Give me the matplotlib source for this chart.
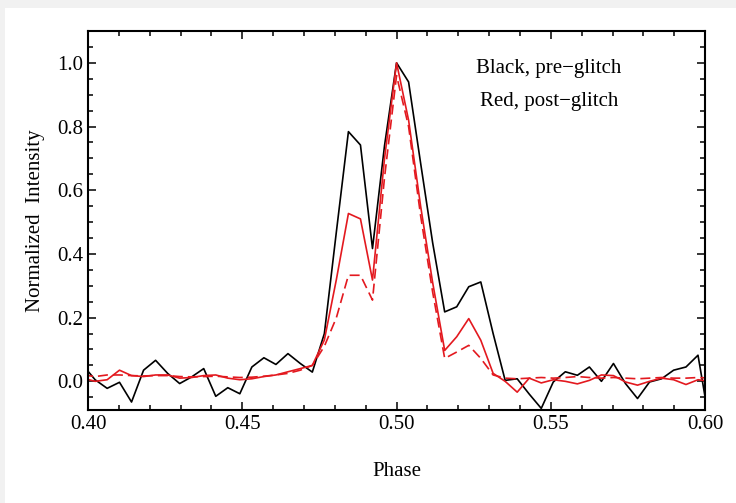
import numpy as np
import matplotlib.pyplot as plt
from matplotlib.patches import Rectangle
from matplotlib.ticker import MultipleLocator, FormatStrFormatter

plt.rcParams['font.family'] = ['Liberation Serif', 'DejaVu Serif']

# pulse phase bins (1/256 of a turn)
phase = [0.3984, 0.4023, 0.4062, 0.4102, 0.4141, 0.4180, 0.4219, 0.4258, 0.4297,
         0.4336, 0.4375, 0.4414, 0.4453, 0.4492, 0.4531, 0.4570, 0.4609, 0.4648,
         0.4688, 0.4727, 0.4766, 0.4805, 0.4844, 0.4883, 0.4922, 0.4961, 0.5000,
         0.5039, 0.5078, 0.5117, 0.5156, 0.5195, 0.5234, 0.5273, 0.5313, 0.5352,
         0.5391, 0.5430, 0.5469, 0.5508, 0.5547, 0.5586, 0.5625, 0.5664, 0.5703,
         0.5742, 0.5781, 0.5820, 0.5859, 0.5898, 0.5938, 0.5977, 0.6016]

# pre-glitch profile
pre = [0.05, 0.005, -0.022, -0.003, -0.065, 0.035, 0.066, 0.025, -0.007,
       0.014, 0.040, -0.047, -0.020, -0.039, 0.045, 0.074, 0.053, 0.087,
       0.056, 0.029, 0.15, 0.47, 0.784, 0.742, 0.417, 0.74, 1.0,
       0.94, 0.685, 0.435, 0.218, 0.234, 0.297, 0.312, 0.15, 0.003,
       0.008, -0.04, -0.085, -0.002, 0.03, 0.019, 0.045, 0.0, 0.056,
       -0.007, -0.054, -0.002, 0.008, 0.035, 0.045, 0.082, -0.14]

# post-glitch profile (solid)
post = [0.01, 0.0, 0.005, 0.035, 0.018, 0.015, 0.02, 0.02, 0.01,
        0.012, 0.018, 0.02, 0.01, 0.005, 0.008, 0.015, 0.02, 0.03,
        0.04, 0.05, 0.13, 0.32, 0.527, 0.51, 0.318, 0.70, 1.0,
        0.82, 0.55, 0.31, 0.097, 0.14, 0.197, 0.129, 0.025, 0.0,
        -0.034, 0.01, -0.005, 0.005, 0.0, -0.008, 0.003, 0.02, 0.018,
        -0.002, -0.012, 0.0, 0.01, 0.005, -0.01, 0.005, 0.0]

# post-glitch profile (dashed)
post2 = [0.02, 0.015, 0.02, 0.02, 0.018, 0.017, 0.018, 0.018, 0.015,
         0.014, 0.015, 0.016, 0.014, 0.012, 0.013, 0.016, 0.02, 0.025,
         0.035, 0.05, 0.11, 0.20, 0.333, 0.333, 0.255, 0.64, 0.96,
         0.80, 0.52, 0.28, 0.072, 0.092, 0.113, 0.072, 0.02, 0.01,
         0.008, 0.01, 0.012, 0.01, 0.012, 0.015, 0.012, 0.01, 0.012,
         0.01, 0.008, 0.01, 0.012, 0.01, 0.01, 0.012, 0.01]

fig = plt.figure(figsize=(7.36, 5.03), dpi=100, facecolor='white')
# light grey frame on the top and left edges
fig.patches.append(Rectangle((0, 1 - 8 / 503), 1, 8 / 503, transform=fig.transFigure,
                             facecolor='#f1f1f1', edgecolor='none'))
fig.patches.append(Rectangle((0, 0), 5 / 736, 1, transform=fig.transFigure,
                             facecolor='#f1f1f1', edgecolor='none'))
ax = fig.add_axes([0.1196, 0.1849, 0.958 - 0.1196, 0.9384 - 0.1849])

red = '#e3191f'
ax.plot(phase, pre, color='black', lw=1.2)
ax.plot(phase, post, color=red, lw=1.2)
ax.plot(phase, post2, color=red, lw=1.2, dashes=(6, 3))

ax.set_xlim(0.40, 0.60)
ax.set_ylim(-0.09, 1.10)
ax.xaxis.set_major_locator(MultipleLocator(0.05))
ax.xaxis.set_minor_locator(MultipleLocator(0.01))
ax.yaxis.set_major_locator(MultipleLocator(0.2))
ax.yaxis.set_minor_locator(MultipleLocator(0.05))
ax.xaxis.set_major_formatter(FormatStrFormatter('%.2f'))
ax.yaxis.set_major_formatter(FormatStrFormatter('%.1f'))
ax.tick_params(which='both', direction='in', top=True, right=True, labelsize=15, width=1.1)
ax.tick_params(which='major', length=6)
ax.tick_params(which='minor', length=3.5)
for s in ax.spines.values():
    s.set_linewidth(1.5)

ax.set_xlabel('Phase', fontsize=15, labelpad=20)
ax.set_ylabel('Normalized  Intensity', fontsize=15, labelpad=9)

ax.text(0.747, 0.90, 'Black, pre\u2212glitch', transform=ax.transAxes, ha='center',
        va='center', fontsize=15)
ax.text(0.747, 0.815, 'Red, post\u2212glitch', transform=ax.transAxes, ha='center',
        va='center', fontsize=15)

fig.savefig('out.png', dpi=100)
